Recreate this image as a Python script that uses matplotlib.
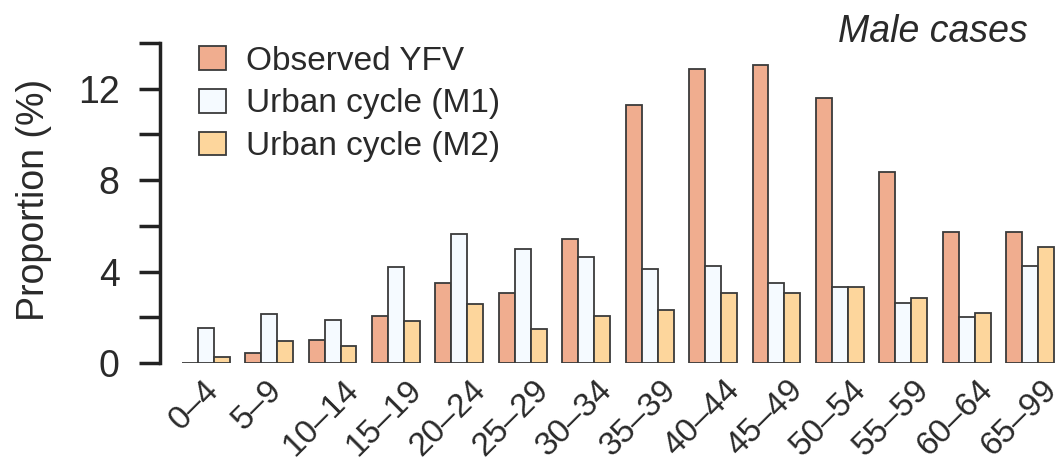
import numpy as np
import matplotlib
matplotlib.use("Agg")
import matplotlib.pyplot as plt

plt.rcParams['font.family'] = ['Liberation Sans', 'DejaVu Sans']

# age groups and proportions (%) of male cases
grupy = ["0–4", "5–9", "10–14", "15–19", "20–24", "25–29", "30–34",
         "35–39", "40–44", "45–49", "50–54", "55–59", "60–64", "65–99"]
obserwowane = [0.0, 0.45, 1.02, 2.05, 3.5, 3.08, 5.43, 11.29, 12.88, 13.02, 11.58, 8.35, 5.74, 5.74]
miejski_m1 = [1.53, 2.15, 1.9, 4.22, 5.65, 5.0, 4.63, 4.12, 4.23, 3.5, 3.34, 2.63, 2.0, 4.26]
miejski_m2 = [0.25, 0.95, 0.73, 1.85, 2.6, 1.5, 2.07, 2.33, 3.07, 3.07, 3.34, 2.83, 2.2, 5.07]

serie = [("Observed YFV", obserwowane, "#F0AD8F"),
         ("Urban cycle (M1)", miejski_m1, "#F5FAFF"),
         ("Urban cycle (M2)", miejski_m2, "#FDD69C")]

fig = plt.figure(figsize=(10.6, 4.68), dpi=100)
ax = fig.add_axes([160/1060, 1 - 363/468, 900/1060, 320/468])

x = np.arange(len(grupy))
szer = 0.252
for k, (nazwa, wart, kolor) in enumerate(serie):
    ax.bar(x + (k - 1)*szer, wart, width=szer, color=kolor, edgecolor="#3a3a3a",
           linewidth=1.3, label=nazwa)

ax.set_xlim(-0.72, 13.47)
ax.set_ylim(0, 14)
ax.set_yticks([0, 4, 8, 12])
ax.set_yticks([2, 6, 10, 14], minor=True)
ax.tick_params(axis="y", which="both", length=15, width=2.5, color="#222222",
               labelsize=27, labelcolor="#2a2a2a", pad=14)
ax.tick_params(axis="x", length=0, labelsize=24, labelcolor="#2a2a2a", pad=8)
# rotated labels, centred slightly left of each group
ax.set_xticks(x - 0.18)
ax.set_xticklabels(grupy, rotation=45)

for s in ["top", "right", "bottom"]:
    ax.spines[s].set_visible(False)
ax.spines["left"].set_linewidth(2.5)
ax.spines["left"].set_color("#222222")

ax.set_ylabel("Proportion (%)", fontsize=27, color="#2a2a2a")
ax.yaxis.set_label_coords(-108/900, 0.51)
fig.text(1028/1060, 1 - 32/468, "Male cases", style="italic", fontsize=27,
         ha="right", va="center", color="#2a2a2a")

ax.legend(loc="upper left", bbox_to_anchor=(0.01, 1.085), frameon=False,
          fontsize=24, handlelength=0.8, handleheight=0.72, handletextpad=0.6,
          labelspacing=0.35, labelcolor="#2a2a2a")

fig.savefig("out.png", dpi=100)
